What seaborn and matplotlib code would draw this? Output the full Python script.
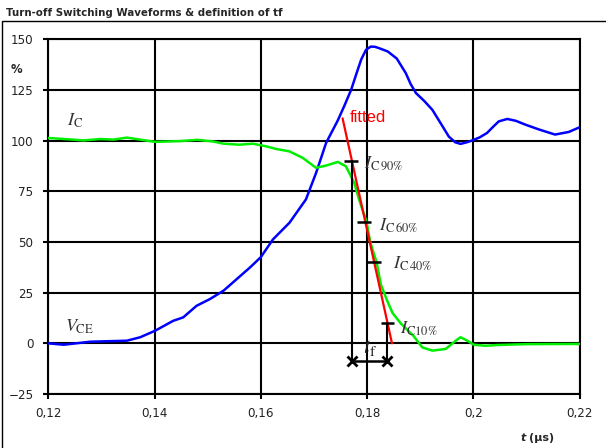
import matplotlib
matplotlib.use("Agg")
import matplotlib.pyplot as plt
import seaborn as sns
import pandas as pd
from matplotlib.patches import Rectangle

# ---- data ----
t_vce = [0.12, 0.1229, 0.1279, 0.1348, 0.1373, 0.1401, 0.1435, 0.1454, 0.1479, 0.1504,
         0.1530, 0.1550, 0.1580, 0.1600, 0.1623, 0.1654, 0.1685, 0.1704, 0.1723, 0.1745,
         0.1757, 0.1770, 0.1780, 0.1789, 0.1798, 0.1807, 0.1815, 0.1823, 0.1839, 0.1856,
         0.1873, 0.1882, 0.1892, 0.1908, 0.1923, 0.1940, 0.1954, 0.1966, 0.1976, 0.1988,
         0.1998, 0.2012, 0.2026, 0.2038, 0.2048, 0.2064, 0.2080, 0.2098, 0.2125, 0.2154,
         0.2180, 0.2201]
vce = [0, -0.7, 0.8, 1.3, 3, 6.2, 11.1, 12.8, 18.5, 21.8,
       26.0, 30.6, 37.5, 42.5, 51.3, 59.5, 71, 84, 98.9, 110,
       117, 125, 133, 140, 144.8, 146.4, 146.3, 145.6, 144, 140.5,
       133.3, 128, 123.5, 119.5, 115.2, 108, 102, 99.2, 98.4, 99.2,
       100.1, 101.6, 103.8, 107, 109.5, 110.7, 109.8, 107.9, 105.4, 103,
       104.3, 106.7]

t_ic = [0.12, 0.1247, 0.1266, 0.1298, 0.1323, 0.1348, 0.1373, 0.1401, 0.1450, 0.1480,
        0.1510, 0.1530, 0.1560, 0.1585, 0.1610, 0.1629, 0.1654, 0.1679, 0.1704, 0.1723,
        0.1745, 0.1760, 0.1776, 0.1785, 0.1799, 0.1806, 0.1818, 0.1826, 0.1838, 0.1848,
        0.1863, 0.1888, 0.1904, 0.1923, 0.1948, 0.1967, 0.1976, 0.1989, 0.2001, 0.2023,
        0.2048, 0.2100, 0.2200]
ic = [101.3, 100.5, 100.1, 100.8, 100.5, 101.5, 100.5, 99.4, 99.8, 100.4,
      99.6, 98.5, 98.0, 98.5, 97.2, 95.9, 94.7, 91.5, 86.6, 87.7,
      89.5, 87.4, 79.2, 71, 60, 50, 40, 29, 21, 15,
      10, 3.5, -2, -3.6, -2.8, 1.3, 3, 1.3, -0.7, -1.2,
      -0.8, -0.4, -0.3]

fit_t = [0.1754, 0.1847]
fit_y = [111, 0]

# level markers (x start, x end, y)
lvl_names = ["90%", "60%", "40%", "10%"]
lvl_x0 = [0.1756, 0.1782, 0.1799, 0.1826]
lvl_x1 = [0.1783, 0.1807, 0.1826, 0.1851]
lvl_y = [90, 60, 40, 10]
lvl_lab_x = [0.1795, 0.1823, 0.1848, 0.1862]
lvl_lab_y = [89, 58, 39, 7]
lvl_lab_sp = [r"\,", r"\,", r"\,", ""]

tf_t = [0.1772, 0.1838]
tf_y = -8.7

xticks = [0.12, 0.14, 0.16, 0.18, 0.20, 0.22]
xticklabels = ["0,12", "0,14", "0,16", "0,18", "0,2", "0,22"]
yticks = [-25, 0, 25, 50, 75, 100, 125, 150]

# ---- plotting ----
sns.set_style("white")
plt.rcParams["font.family"] = ["DejaVu Sans"]
plt.rcParams["mathtext.fontset"] = "stix"

fig = plt.figure(figsize=(6.06, 4.48), dpi=100)
ax = fig.add_axes([48.3 / 606, 1 - 394 / 448, (579.5 - 48.3) / 606, (394 - 39.3) / 448])

# outer frame
fig.add_artist(Rectangle((1.7 / 606, -0.1), 1.5, 1 - 20.7 / 448 + 0.1, transform=fig.transFigure,
                         fill=False, edgecolor="black", lw=1.0, clip_on=False))
fig.text(6 / 606, 1 - 13.3 / 448, "Turn-off Switching Waveforms & definition of tf",
         fontsize=7.4, fontweight="bold", va="center", ha="left")

df_v = pd.DataFrame({"t": t_vce, "v": vce})
df_i = pd.DataFrame({"t": t_ic, "v": ic})
df_f = pd.DataFrame({"t": fit_t, "v": fit_y})

sns.lineplot(data=df_v, x="t", y="v", ax=ax, color="#0000ff", lw=1.8, sort=False, estimator=None,
             zorder=4, solid_joinstyle="round")
sns.lineplot(data=df_i, x="t", y="v", ax=ax, color="#00ee00", lw=1.8, sort=False, estimator=None,
             zorder=4, solid_joinstyle="round")
sns.lineplot(data=df_f, x="t", y="v", ax=ax, color="#ff0000", lw=1.6, sort=False, estimator=None, zorder=5)

ax.set_xlim(0.12, 0.22)
ax.set_ylim(-25, 150)
ax.set_xticks(xticks)
ax.set_xticklabels(xticklabels)
ax.set_yticks(yticks)
ax.set_xlabel("")
ax.set_ylabel("")
ax.grid(True, color="black", lw=1.5)
ax.set_axisbelow(True)
for s in ax.spines.values():
    s.set_visible(True)
    s.set_color("black")
    s.set_linewidth(1.5)
ax.tick_params(axis="both", direction="out", length=3.6, width=1.5, color="black",
               labelsize=8.6, labelcolor="#222222", bottom=True, left=True)
ax.tick_params(axis="x", pad=5.5)
ax.tick_params(axis="y", pad=7)

# level ticks & labels
for x0, x1, y, nm, lx, ly, sp in zip(lvl_x0, lvl_x1, lvl_y, lvl_names, lvl_lab_x, lvl_lab_y, lvl_lab_sp):
    ax.plot([x0, x1], [y, y], color="black", lw=1.8, zorder=6, solid_capstyle="butt")
    ax.text(lx, ly, r"$I_{\mathrm{C}" + sp + r"\mathrm{" + nm.replace("%", r"\%") + "}}$",
            fontsize=13, color="#333333", va="center", ha="left", zorder=7)

# vertical lines and tf arrow
ax.plot([tf_t[0], tf_t[0]], [lvl_y[0], tf_y], color="black", lw=1.5, zorder=6)
ax.plot([tf_t[1], tf_t[1]], [lvl_y[3], tf_y], color="black", lw=1.5, zorder=6)
ax.plot(tf_t, [tf_y, tf_y], color="black", lw=1.8, marker="x", markersize=7, mew=2, zorder=6)
ax.text(0.1805, -2.2, r"$t_{\mathrm{f}}$", fontsize=16, color="#222222", ha="center", va="center", zorder=7)

ax.text(0.1767, 111.5, "fitted", color="#ff0000", fontsize=12, family="Liberation Sans",
        ha="left", va="center", zorder=7)
ax.text(0.1235, 109.7, r"$I_{\mathrm{C}}$", fontsize=13, color="#333333", ha="left", va="center")
ax.text(0.1232, 8, r"$V_{\mathrm{CE}}$", fontsize=13, color="#333333", ha="left", va="center")

fig.text(16 / 606, 1 - 69 / 448, "%", fontsize=8.4, fontweight="bold", ha="center", va="center")
fig.text(526 / 606, 1 - 438 / 448, "t", fontsize=8, fontweight="bold", style="italic", ha="right", va="center")
fig.text(554.3 / 606, 1 - 438 / 448, "(µs)", fontsize=8, fontweight="bold", ha="right", va="center")

fig.savefig("out.png", dpi=100)
